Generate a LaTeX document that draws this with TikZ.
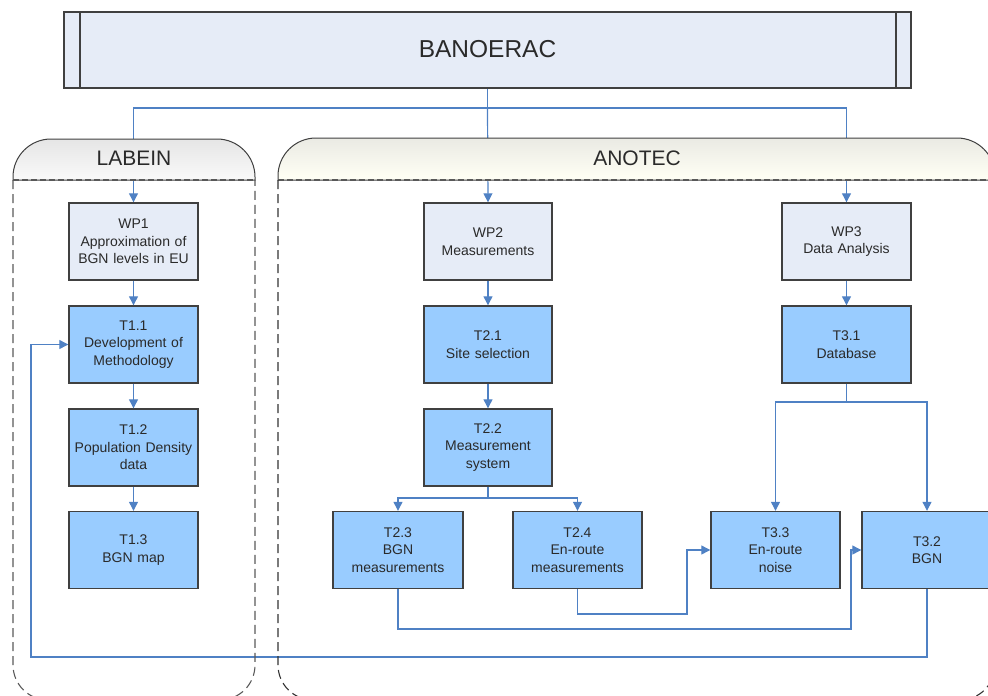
\documentclass[tikz,border=0pt]{standalone}
\usepackage{fontspec}
\setmainfont{Liberation Sans}
\usetikzlibrary{arrows.meta,calc}
\definecolor{conn}{HTML}{4F81C4}
\definecolor{boxline}{HTML}{404040}
\definecolor{wpfill}{HTML}{E6ECF7}
\definecolor{tfill}{HTML}{99CCFF}
\definecolor{txt}{HTML}{2A2A2A}
\pgfdeclarelayer{connlayer}
\pgfdeclarelayer{contlayer}
\pgfsetlayers{connlayer,contlayer,main}
\tikzset{
  basebox/.style={draw=boxline, line width=1.4pt, minimum width=129pt, minimum height=77pt,
    inner sep=0pt, text width=125pt, align=center, text=txt,
    font=\fontsize{14}{17.5}\selectfont},
  wpbox/.style={basebox, fill=wpfill},
  tbox/.style={basebox, fill=tfill},
  link/.style={draw=conn, line width=1.2pt},
  arr/.style={link, -{Triangle[length=9pt,width=9pt]}},
  contline/.style={draw=black!80, line width=1.1pt, dash pattern=on 9pt off 5pt},
  headtext/.style={font=\fontsize{21}{24}\selectfont, text=txt}
}
\begin{document}
\begin{tikzpicture}[x=1pt,y=-1pt]
\useasboundingbox (0,0) rectangle (988,696);

% top box
\node[draw=boxline, line width=1.4pt, fill=wpfill, minimum width=847pt, minimum height=76pt,
  inner sep=0pt, text=txt, font=\fontsize{24.5}{28}\selectfont] (ban) at (487.5,50) {\raisebox{2pt}{BANOERAC}};
\draw[boxline, line width=1.4pt] (80,12) -- (80,88) (896,12) -- (896,88);

% boxes
\node[wpbox] (wp1) at (133.5,241.5) {WP1\\Approximation of\\BGN levels in EU};
\node[tbox] (t11) at (133.5,344.5) {T1.1\\Development of\\Methodology};
\node[tbox] (t12) at (133.5,447.5) {T1.2\\Population Density\\data};
\node[tbox] (t13) at (133.5,550) {T1.3\\BGN map};

\node[wpbox, minimum width=128pt] (wp2) at (488,241.5) {WP2\\Measurements};
\node[tbox, minimum width=128pt] (t21) at (488,344.5) {T2.1\\Site selection};
\node[tbox, minimum width=128pt] (t22) at (488,447.5) {T2.2\\Measurement\\system};
\node[tbox, minimum width=130pt] (t23) at (398,550) {T2.3\\BGN\\measurements};
\node[tbox] (t24) at (577.5,550) {T2.4\\En-route\\measurements};

\node[wpbox] (wp3) at (846.5,241.5) {WP3\\Data Analysis};
\node[tbox] (t31) at (846.5,344.5) {T3.1\\Database};
\node[tbox] (t33) at (775.5,550) {T3.3\\En-route\\noise};
\node[tbox, minimum width=130pt] (t32) at (927,550) {T3.2\\BGN};

% containers and headers
\begin{pgfonlayer}{contlayer}
  \path[top color=black!10, bottom color=black!2, draw=black!75, line width=1pt]
    (13,180) [rounded corners=38pt] -- (13,139) -- (255,139) [sharp corners] -- (255,180) -- cycle;
  \path[top color=black!8!yellow!3!white!92!black, bottom color=white!96!yellow, draw=black!75, line width=1pt]
    (278,180) [rounded corners=38pt] -- (278,138) -- (995,138) [sharp corners] -- (995,180) -- cycle;
  \draw[black!65, line width=1.3pt, dash pattern=on 6pt off 3pt] (13,180) -- (255,180);
  \draw[black!65, line width=1.3pt, dash pattern=on 6pt off 3pt] (278,180) -- (995,180);
  \draw[contline, draw=black!65] (13,180) [rounded corners=35pt] -- (13,700) -- (255,700) -- (255,180);
  \draw[contline] (278,180) [rounded corners=35pt] -- (278,700) -- (995,700) -- (995,180);
  \node[headtext] (lab) at (134,158) {LABEIN};
  \node[headtext] (ano) at (637,158) {ANOTEC};
\end{pgfonlayer}

% connectors
\begin{pgfonlayer}{connlayer}
  \coordinate (hub) at (487.5,108);
  \draw[link] (ban.south) -- (hub);
  \draw[arr] (hub) -| (wp1.north);
  \draw[arr] (hub) -- (wp2.north);
  \draw[arr] (hub) -| (wp3.north);
\end{pgfonlayer}
\draw[arr] (wp1) -- (t11);
\draw[arr] (t11) -- (t12);
\draw[arr] (t12) -- (t13);
\draw[arr] (wp2) -- (t21);
\draw[arr] (t21) -- (t22);
\draw[arr] (wp3) -- (t31);
\coordinate (s22) at (488,498);
\draw[link] (t22.south) -- (s22);
\draw[arr] (s22) -| (t23.north);
\draw[arr] (s22) -| (t24.north);
\coordinate (s31) at (846.5,402);
\draw[link] (t31.south) -- (s31);
\draw[arr] (s31) -| (t33.north);
\draw[arr] (s31) -| (t32.north);
\coordinate (c1) at (687,614);
\coordinate (c2) at (851,629);
\coordinate (c3) at (31,657);
\draw[arr] (t24.south) |- (c1) |- (t33.west);
\draw[arr] (t23.south) |- (c2) |- (t32.west);
\begin{pgfonlayer}{connlayer}
  \draw[arr] (t32.south) |- (c3) |- (t11.west);
\end{pgfonlayer}
\end{tikzpicture}
\end{document}
